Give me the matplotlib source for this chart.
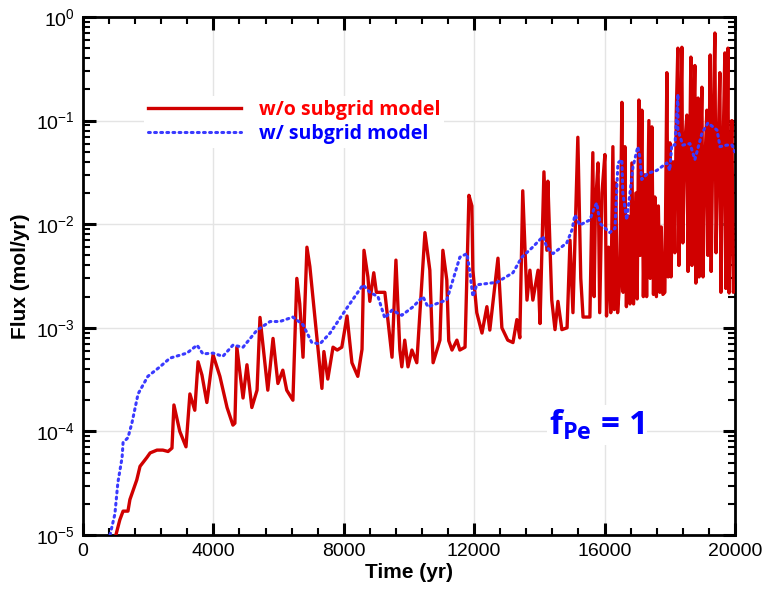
"""Flux vs time, with and without the subgrid model (f_Pe = 1)."""

import matplotlib
matplotlib.use("Agg")
import matplotlib.pyplot as plt
from matplotlib.ticker import FixedLocator, MultipleLocator, LogLocator, NullFormatter

plt.rcParams.update({"font.family": "Liberation Sans", "font.size": 14,
                     "mathtext.fontset": "custom", "mathtext.rm": "Liberation Sans",
                     "mathtext.bf": "Open Sans:bold"})

RED = "#D00000"; BLUE = "#3A3AFF"

# w/ subgrid model (blue dotted)
t_sub = [830, 980, 1070, 1200, 1230, 1380, 1500, 1690, 1990, 2360, 2670, 3190, 3500, 3680,
         3990, 4290, 4600, 4910, 5340, 5740, 6040, 6440, 6750, 7020, 7270, 7580, 8100, 8590,
         8800, 9050, 9260, 9480, 9780, 10120, 10430, 10580, 11160, 11320, 11560, 11780,
         11870, 11960, 12080, 12700, 13190, 13460, 13770, 14110, 14230, 14420, 14840, 15000,
         15090, 15240, 15550, 15700, 15760, 15860, 16160, 16320, 16410, 16530, 16560, 16680,
         16780, 16870, 17020, 17080, 17140, 17330, 17600, 17910, 18000, 18060, 18160, 18250,
         18250, 18400, 18620, 18770, 18990, 19170, 19450, 19540, 19750, 19910, 19990]
f_sub = [1.0e-5, 1.6e-5, 3.2e-5, 5.6e-5, 7.8e-5, 8.7e-5, 1.2e-4, 2.3e-4, 3.4e-4, 4.2e-4,
         5.1e-4, 5.7e-4, 6.8e-4, 5.6e-4, 5.7e-4, 5.3e-4, 6.8e-4, 6.5e-4, 9.5e-4, 1.15e-3,
         1.15e-3, 1.27e-3, 1.07e-3, 7.2e-4, 7.0e-4, 8.9e-4, 1.56e-3, 2.6e-3, 2.2e-3, 2.0e-3,
         1.24e-3, 1.48e-3, 1.32e-3, 1.59e-3, 2.0e-3, 1.59e-3, 1.86e-3, 2.7e-3, 4.8e-3, 5.2e-3,
         3.4e-3, 2.0e-3, 2.6e-3, 2.75e-3, 3.4e-3, 4.8e-3, 5.9e-3, 7.6e-3, 6.0e-3, 5.2e-3,
         6.6e-3, 8.8e-3, 1.23e-2, 9.8e-3, 1.1e-2, 1.48e-2, 1.6e-2, 1.02e-2, 8.3e-3, 9.1e-3,
         3.9e-2, 4.2e-2, 2.0e-2, 1.1e-2, 2.0e-2, 3.55e-2, 5.6e-2, 4.5e-2, 2.7e-2, 3.1e-2,
         3.3e-2, 3.9e-2, 3.3e-2, 5.8e-2, 5.8e-2, 0.18, 8.1e-2, 5.8e-2, 6.0e-2, 4.2e-2, 7.6e-2,
         9.5e-2, 8.1e-2, 5.6e-2, 5.8e-2, 5.8e-2, 5.0e-2]

# w/o subgrid model (red solid), up to ~15300 yr
t_nosub_early = [1010, 1130, 1230, 1380, 1440, 1650, 1750, 1960, 2060, 2270, 2450, 2610,
                 2730, 2790, 2970, 3160, 3280, 3430, 3530, 3650, 3800, 3990, 4200, 4420,
                 4600, 4660, 4720, 4910, 5030, 5180, 5340, 5430, 5670, 5830, 5980, 6130,
                 6250, 6440, 6560, 6650, 6750, 6870, 6960, 7110, 7330, 7390, 7510, 7670,
                 7800, 7940, 8100, 8250, 8430, 8560, 8620, 8740, 8800, 8920, 9000, 9150,
                 9260, 9480, 9600, 9720, 9780, 9870, 9970, 10090, 10240, 10490, 10640,
                 10740, 10950, 11040, 11160, 11220, 11320, 11470, 11560, 11720, 11840,
                 11930, 11960, 12080, 12240, 12390, 12480, 12730, 12850, 13030, 13190,
                 13310, 13400, 13490, 13620, 13710, 13800, 13960, 14020, 14140, 14230,
                 14260, 14380, 14480, 14570, 14690, 14850, 14940, 15030, 15180, 15270, 15340]
f_nosub_early = [1.0e-5, 1.4e-5, 1.7e-5, 1.7e-5, 2.2e-5, 3.4e-5, 4.6e-5, 5.6e-5, 6.2e-5,
                 6.6e-5, 6.6e-5, 6.4e-5, 6.9e-5, 1.8e-4, 1.0e-4, 7.1e-5, 2.3e-4, 1.6e-4,
                 4.7e-4, 3.5e-4, 1.9e-4, 5.5e-4, 3.4e-4, 1.7e-4, 1.15e-4, 1.2e-4, 6.5e-4,
                 2.1e-4, 4.4e-4, 1.7e-4, 2.5e-4, 1.26e-3, 2.5e-4, 7.9e-4, 2.9e-4, 3.9e-4,
                 2.5e-4, 2.0e-4, 3.0e-3, 1.7e-3, 5.2e-4, 6.0e-3, 3.9e-3, 1.3e-3, 2.6e-4,
                 5.9e-4, 3.2e-4, 6.5e-4, 6.1e-4, 6.5e-4, 1.3e-3, 4.6e-4, 3.4e-4, 6.2e-4,
                 5.6e-3, 3.1e-3, 1.8e-3, 3.4e-3, 2.2e-3, 2.2e-3, 2.2e-3, 5.2e-4, 4.5e-3,
                 6.1e-4, 4.2e-4, 7.6e-4, 4.2e-4, 6.1e-4, 4.6e-4, 8.3e-3, 3.6e-3, 4.6e-4,
                 7.6e-4, 5.6e-3, 2.9e-3, 7.5e-4, 6.1e-4, 7.6e-4, 6.1e-4, 6.5e-4, 1.9e-2,
                 1.5e-2, 3.6e-3, 1.4e-3, 8.9e-4, 1.6e-3, 9.5e-4, 4.7e-3, 1.0e-3, 7.6e-4,
                 7.2e-4, 1.2e-3, 8.0e-4, 2.1e-2, 1.85e-3, 3.6e-3, 1.85e-3, 3.6e-3, 1.1e-3,
                 3.2e-2, 5.6e-3, 2.6e-2, 1.85e-3, 9.6e-4, 1.8e-3, 9.6e-4, 1.0e-3, 7.0e-3,
                 1.4e-3, 6.9e-2, 3.0e-3, 1.27e-3]

# w/o subgrid model, dense spiky part after ~15500 yr
t_nosub_late = [15550, 15600, 15640, 15680, 15720, 15800, 15850, 15920, 16010, 16060, 16120,
                16190, 16255, 16300, 16340, 16400, 16470, 16531, 16570, 16623, 16670, 16720,
                16780, 16838, 16890, 16960, 17000, 17052, 17090, 17144, 17190, 17240, 17290,
                17359, 17400, 17451, 17500, 17543, 17590, 17650, 17696, 17740, 17790, 17850,
                17911, 17950, 18003, 18040, 18100, 18156, 18200, 18248, 18280, 18320, 18371,
                18400, 18460, 18525, 18560, 18610, 18647, 18680, 18730, 18770, 18800, 18840,
                18870, 18900, 18950, 18985, 19020, 19080, 19138, 19170, 19200, 19240, 19270,
                19320, 19384, 19420, 19480, 19537, 19570, 19620, 19690, 19720, 19782, 19820,
                19870, 19905, 19950, 19995]
f_nosub_late = [1.27e-3, 1.0e-2, 4.9e-2, 2.0e-3, 1.5e-2, 3.9e-2, 1.4e-3, 2.0e-2, 4.7e-2,
                1.3e-3, 6.0e-3, 1.4e-3, 5.6e-2, 1.5e-3, 2.5e-2, 1.4e-3, 3.0e-3, 0.15, 2.2e-3,
                5.6e-2, 1.6e-3, 1.2e-2, 1.7e-3, 3.9e-2, 1.7e-3, 2.0e-2, 1.9e-3, 0.158, 5.0e-3,
                0.126, 2.0e-3, 3.0e-2, 2.0e-3, 0.10, 3.0e-3, 8.7e-2, 2.1e-3, 1.83e-2, 2.0e-3,
                1.5e-2, 2.2e-3, 9.4e-3, 2.1e-3, 2.2e-3, 0.29, 3.1e-3, 6.1e-2, 3.1e-3, 4.0e-2,
                5.3e-3, 0.12, 0.50, 4.0e-3, 5.0e-2, 0.51, 6.6e-3, 6.0e-2, 0.113, 3.5e-3, 4.0e-2,
                0.41, 4.0e-3, 8.0e-2, 0.34, 2.7e-3, 3.0e-2, 0.165, 3.1e-3, 6.0e-2, 0.21, 3.1e-3,
                4.0e-2, 0.126, 5.0e-3, 3.0e-2, 0.43, 3.5e-3, 6.0e-2, 0.70, 5.3e-3, 5.0e-2, 0.29,
                2.2e-3, 3.0e-2, 0.45, 2.4e-3, 0.50, 2.17e-3, 3.0e-2, 0.10, 2.2e-3, 2.5e-3]

x_ticks = [0, 4000, 8000, 12000, 16000, 20000]
y_ticks = [1e-5, 1e-4, 1e-3, 1e-2, 1e-1, 1e0]
y_labels = [r"$\mathregular{10^{-5}}$", r"$\mathregular{10^{-4}}$", r"$\mathregular{10^{-3}}$",
            r"$\mathregular{10^{-2}}$", r"$\mathregular{10^{-1}}$", r"$\mathregular{10^{0}}$"]


def main():
    t_nosub = t_nosub_early + t_nosub_late
    f_nosub = f_nosub_early + f_nosub_late

    fig = plt.figure(figsize=(7.64, 5.90), dpi=100)
    ax = fig.add_axes([0.1086, 0.0932, 0.8534, 0.8780])
    ax.plot(t_nosub, f_nosub, color=RED, lw=2.4, label="w/o subgrid model", zorder=3)
    ax.plot(t_sub, f_sub, color=BLUE, lw=2.2, ls=(0, (0.6, 1.4)), dash_capstyle="round",
            label="w/ subgrid model", zorder=4)
    ax.set_yscale("log")
    ax.set_xlim(0, 20000); ax.set_ylim(1e-5, 1)
    ax.xaxis.set_major_locator(FixedLocator(x_ticks))
    ax.xaxis.set_minor_locator(MultipleLocator(800))
    ax.set_xticklabels([str(v) for v in x_ticks])
    ax.yaxis.set_major_locator(FixedLocator(y_ticks))
    ax.yaxis.set_minor_locator(LogLocator(base=10, subs=range(2, 10), numticks=20))
    ax.yaxis.set_minor_formatter(NullFormatter())
    ax.set_yticklabels(y_labels)
    ax.tick_params(which="both", direction="in", top=True, right=True, width=1.5, labelsize=14)
    ax.tick_params(which="major", length=9, width=2.2, pad=6)
    ax.tick_params(which="minor", length=5)
    for s in ax.spines.values():
        s.set_linewidth(2.0)
    ax.grid(which="major", color="#E4E4E4", lw=1.0, zorder=0)
    ax.set_axisbelow(True)
    ax.set_xlabel("Time (yr)", fontsize=15, fontweight="bold", labelpad=2)
    ax.set_ylabel("Flux (mol/yr)", fontsize=15, fontweight="bold", labelpad=4)

    leg = ax.legend(loc="upper left", bbox_to_anchor=(0.079, 0.866), frameon=True,
                    facecolor="white", edgecolor="none", framealpha=1, fancybox=False,
                    handlelength=4.8, handletextpad=0.9, labelspacing=0.2, borderpad=0.2,
                    prop={"family": "Open Sans", "weight": "bold", "size": 14})
    for txt, c in zip(leg.get_texts(), ["#FF0000", "#0000FF"]):
        txt.set_color(c)

    ax.text(0.788, 0.212, r"$\mathbf{f_{Pe}}$ = 1", transform=ax.transAxes, ha="center",
            va="center", color="#0000FF", fontsize=24, fontfamily="Open Sans",
            fontweight="bold", bbox=dict(facecolor="white", edgecolor="none", pad=2))

    fig.savefig("out.png", dpi=100)
    plt.close(fig)


if __name__ == "__main__":
    main()
